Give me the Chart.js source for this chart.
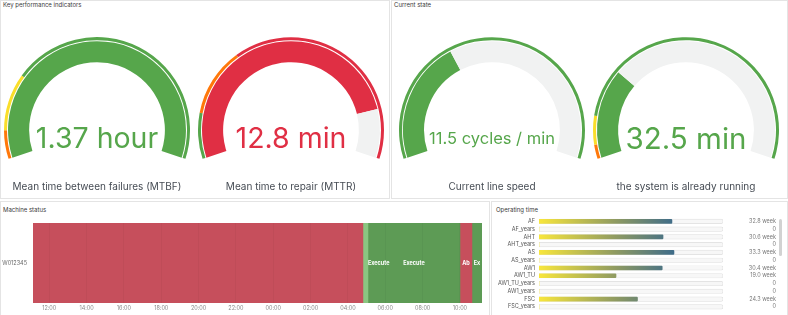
<!DOCTYPE html>
<html>
<head>
<meta charset="utf-8">
<script src="https://cdn.jsdelivr.net/npm/chart.js@4.4.1/dist/chart.umd.min.js"></script>
<style>
body { margin: 0; width: 788px; height: 315px; overflow: hidden; background: #fff; position: relative; font-family: Inter, "Noto Sans", sans-serif; }
.panel { position: absolute; border: 1px solid #e4e4e4; box-sizing: border-box; background: #fff; }
.title { position: absolute; font-size: 6px; color: #3a3a3a; white-space: nowrap; }
.abs { position: absolute; }
.val { position: absolute; width: 200px; text-align: center; white-space: nowrap; }
.lbl { position: absolute; width: 200px; text-align: center; font-size: 10px; color: #464c54; white-space: nowrap; }
.scroll { position: absolute; left: 779px; top: 219px; width: 3px; height: 37px; background: #d2d2d2; border-radius: 2px; }
</style>
</head>
<body>
<div class="panel" style="left:0;top:0;width:390px;height:199px"></div>
<div class="panel" style="left:391px;top:0;width:397px;height:199px"></div>
<div class="panel" style="left:0;top:201px;width:490px;height:120px"></div>
<div class="panel" style="left:491px;top:201px;width:297px;height:120px"></div>

<div class="title" style="left:3px;top:1px">Key performance indicators</div>
<div class="title" style="left:394px;top:1px">Current state</div>
<div class="title" style="left:3px;top:206px">Machine status</div>
<div class="title" style="left:496px;top:206px">Operating time</div>

<canvas id="g0" class="abs" width="186" height="122" style="left:4px;top:37px"></canvas>
<canvas id="g1" class="abs" width="186" height="122" style="left:198px;top:37px"></canvas>
<canvas id="g2" class="abs" width="186" height="122" style="left:399px;top:37px"></canvas>
<canvas id="g3" class="abs" width="186" height="122" style="left:593px;top:37px"></canvas>

<canvas id="timeline" class="abs" width="489" height="114" style="left:0;top:201px"></canvas>
<canvas id="optime" class="abs" width="297" height="117" style="left:491px;top:201px"></canvas>
<div class="scroll"></div>

<script>
// gauges
const gaugeTitles = ['Mean time between failures (MTBF)', 'Mean time to repair (MTTR)', 'Current line speed', 'the system is already running'];
const gaugeValues = [82.2, 12.8, 11.5, 32.5];
const gaugeMax = [60, 15, 31, 120];
const gaugeText = ['1.37 hour', '12.8 min', '11.5 cycles / min', '32.5 min'];
const gaugeSteps = [[0, 5, 15], [0, 2, 5], [0], [0, 5, 15]];
const gaugeStepColors = [['orange', 'yellow', 'green'], ['green', 'orange', 'red'], ['green'], ['orange', 'yellow', 'green']];

// machine status timeline (hours from 00:00 of first day)
const rowNames = ['W012345'];
const segStart = [11.13, 28.80, 29.07, 34.0, 34.64];
const segEnd = [28.80, 29.07, 34.0, 34.64, 35.18];
const segState = ['Aborted', 'Starting', 'Execute', 'Aborted', 'Execute'];
const segLabel = ['', 'Execute', 'Execute', 'Ab', 'Ex'];
const timeTicks = [12, 14, 16, 18, 20, 22, 24, 26, 28, 30, 32, 34];

// operating time
const opNames = ['AF', 'AF_years', 'AHT', 'AHT_years', 'AS', 'AS_years', 'AW1', 'AW1_TU', 'AW1_TU_years', 'AW1_years', 'FSC', 'FSC_years'];
const opValues = [32.8, 0, 30.6, 0, 33.3, 0, 30.4, 19.0, 0, 0, 24.3, 0];
const opMax = 45.4;

const COLORS = { green: '#56a64b', yellow: '#fade2a', orange: '#ff780a', red: '#e02f44' };
const STATE_COLORS = { Aborted: '#c64f5c', Starting: '#8ac681', Execute: '#5d9b55' };
const valueFont = [28.5, 28.5, 16.5, 29.5];
const centers = [97, 291, 492, 686];

gaugeValues.forEach((v, i) => {
    const max = gaugeMax[i];
    const steps = gaugeSteps[i];
    const widths = steps.map((s, k) => (k + 1 < steps.length ? steps[k + 1] : max) - s);
    let ci = 0;
    steps.forEach((s, k) => { if (v >= s) ci = k; });
    const valColor = COLORS[gaugeStepColors[i][ci]];
    const filled = Math.min(v, max);
    new Chart(document.getElementById('g' + i), {
        type: 'doughnut',
        data: {
            datasets: [
                { data: widths, backgroundColor: gaugeStepColors[i].map(c => COLORS[c]), borderWidth: 0, weight: 3 },
                { data: [max], backgroundColor: 'rgba(0,0,0,0)', borderWidth: 0, weight: 1 },
                { data: [filled, max - filled], backgroundColor: [valColor, '#f1f2f2'], borderWidth: 0, weight: 21 }
            ]
        },
        options: {
            responsive: false,
            animation: false,
            events: [],
            rotation: -108,
            circumference: 216,
            cutout: '73%',
            plugins: { legend: { display: false }, tooltip: { enabled: false } }
        }
    });

    const t = document.createElement('div');
    t.className = 'val';
    t.style.left = (centers[i] - 100) + 'px';
    t.style.fontSize = valueFont[i] + 'px';
    t.style.lineHeight = '30px';
    t.style.top = (138 - 15) + 'px';
    t.style.color = valColor;
    t.textContent = gaugeText[i];
    document.body.appendChild(t);

    const l = document.createElement('div');
    l.className = 'lbl';
    l.style.left = (centers[i] - 100) + 'px';
    l.style.top = '180px';
    l.textContent = gaugeTitles[i];
    document.body.appendChild(l);
});

// timeline
const segLabels = {
    id: 'segLabels',
    afterDatasetsDraw(chart) {
        const ctx = chart.ctx;
        ctx.save();
        ctx.font = 'bold 5.5px Inter';
        ctx.fillStyle = '#fff';
        ctx.textBaseline = 'middle';
        segLabel.forEach((txt, i) => {
            if (!txt) return;
            const el = chart.getDatasetMeta(i).data[0];
            const x0 = Math.min(el.x, el.base), x1 = Math.max(el.x, el.base);
            const w = ctx.measureText(txt).width;
            if (w > x1 - x0) {
                ctx.textAlign = 'left';
                ctx.fillText(txt, x0 + 5, el.y);
            } else {
                ctx.textAlign = 'center';
                ctx.fillText(txt, (x0 + x1) / 2, el.y);
            }
        });
        ctx.restore();
    }
};

new Chart(document.getElementById('timeline'), {
    type: 'bar',
    data: {
        labels: rowNames,
        datasets: segStart.map((s, i) => ({
            data: [[s, segEnd[i]]],
            backgroundColor: STATE_COLORS[segState[i]],
            borderWidth: 0,
            barPercentage: 1,
            categoryPercentage: 1,
            grouped: false
        }))
    },
    options: {
        indexAxis: 'y',
        responsive: false,
        animation: false,
        events: [],
        layout: { padding: { top: 22, right: 7, left: 0, bottom: 0 } },
        scales: {
            x: {
                type: 'linear',
                min: segStart[0],
                max: segEnd[segEnd.length - 1],
                afterBuildTicks: s => { s.ticks = timeTicks.map(v => ({ value: v })); },
                afterFit: s => { s.height = 12; },
                ticks: {
                    autoSkip: false,
                    maxRotation: 0,
                    padding: 2,
                    color: '#8a8a8a',
                    font: { size: 5.5, family: 'Inter' },
                    callback: v => String(v % 24).padStart(2, '0') + ':00'
                },
                grid: { color: 'rgba(0,0,0,0.035)', z: 1, drawTicks: false },
                border: { display: false }
            },
            y: {
                afterFit: s => { s.width = 33; },
                ticks: { color: '#666', padding: 6, font: { size: 5.5, family: 'Inter' } },
                grid: { display: false, drawTicks: false },
                border: { display: false }
            }
        },
        plugins: { legend: { display: false }, tooltip: { enabled: false } }
    },
    plugins: [segLabels]
});

// operating time bar gauge
const opLabels = {
    id: 'opLabels',
    afterDatasetsDraw(chart) {
        const ctx = chart.ctx;
        ctx.save();
        ctx.font = '5.5px Inter';
        ctx.fillStyle = '#7a7a7a';
        ctx.textAlign = 'right';
        ctx.textBaseline = 'middle';
        opValues.forEach((v, i) => {
            const y = chart.scales.y.getPixelForValue(i);
            ctx.fillText(v ? v.toFixed(1) + ' week' : '0', 285, y);
        });
        ctx.restore();
    }
};

new Chart(document.getElementById('optime'), {
    type: 'bar',
    data: {
        labels: opNames,
        datasets: [
            {
                data: opValues,
                backgroundColor: c => {
                    const a = c.chart.chartArea;
                    if (!a) return '#fade2a';
                    const g = c.chart.ctx.createLinearGradient(a.left, 0, a.right, 0);
                    g.addColorStop(0, '#f8e63c');
                    g.addColorStop(0.42, '#8e9a62');
                    g.addColorStop(0.74, '#3d6b8a');
                    g.addColorStop(1, '#2a5a85');
                    return g;
                },
                barThickness: 4,
                borderRadius: 1,
                grouped: false
            },
            {
                data: opValues.map(() => opMax),
                backgroundColor: '#f7f7f7',
                borderColor: '#dedede',
                borderWidth: 0.7,
                barThickness: 4.5,
                borderRadius: 2,
                grouped: false
            }
        ]
    },
    options: {
        indexAxis: 'y',
        responsive: false,
        animation: false,
        events: [],
        layout: { padding: { top: 16.5, right: 65, left: 0, bottom: 0.5 } },
        scales: {
            x: { display: false, min: 0, max: opMax },
            y: {
                afterFit: s => { s.width = 48; },
                ticks: { autoSkip: false, color: '#555', padding: 4, font: { size: 5.5, family: 'Inter' } },
                grid: { display: false, drawTicks: false },
                border: { display: false }
            }
        },
        plugins: { legend: { display: false }, tooltip: { enabled: false } }
    },
    plugins: [opLabels]
});
</script>
</body>
</html>
